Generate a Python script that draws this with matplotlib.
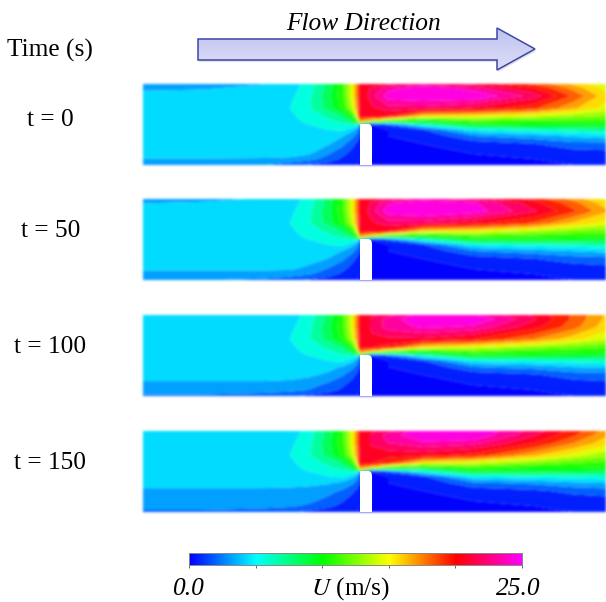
import matplotlib
matplotlib.use("Agg")
import matplotlib.pyplot as plt
import numpy as np
from matplotlib.colors import LinearSegmentedColormap
from matplotlib.patches import PathPatch, Polygon
from matplotlib.path import Path

plt.rcParams['font.family'] = ['Liberation Serif', 'DejaVu Serif']

W, H = 606, 602

# stations of the velocity tables, pixels from the panel's top left corner
x_st = [0, 60, 120, 147, 165, 185, 200, 210, 214, 217, 229, 245, 280, 330, 390, 430, 463]
y_st = [0, 4, 12, 24, 32, 37, 39, 41, 46, 52, 60, 70, 75, 81]

# velocity (m/s), one row per y station
u_t0 = [
    [3.0, 3.0, 3.7, 4.4, 5.4, 8.0, 11.0, 15.0, 17.5, 20.0, 20.5, 21.0, 22.0, 21.0, 18.5, 16.0, 13.5],
    [3.4, 3.6, 4.1, 4.5, 5.5, 8.0, 11.0, 15.0, 17.5, 20.0, 21.5, 23.0, 25.0, 23.0, 20.0, 17.0, 14.5],
    [4.4, 4.4, 4.4, 4.7, 5.8, 8.3, 11.0, 15.0, 17.5, 20.0, 22.0, 24.5, 25.0, 25.0, 22.0, 18.5, 15.5],
    [4.4, 4.4, 4.4, 5.0, 6.0, 8.0, 10.5, 14.0, 17.0, 20.5, 21.0, 22.0, 22.0, 21.0, 19.0, 16.5, 14.5],
    [4.4, 4.4, 4.4, 4.7, 5.6, 6.5, 7.8, 11.0, 15.0, 20.0, 20.0, 20.0, 15.5, 15.0, 14.0, 13.0, 12.5],
    [4.4, 4.4, 4.4, 4.5, 5.3, 6.0, 6.8, 8.5, 11.0, 17.0, 15.0, 11.0, 9.5, 11.5, 11.0, 11.0, 11.0],
    [4.4, 4.4, 4.4, 4.5, 5.1, 5.8, 6.3, 7.0, 9.0, 13.0, 5.0, 5.5, 7.5, 10.5, 10.5, 10.3, 10.3],
    [4.4, 4.4, 4.4, 4.4, 4.9, 5.5, 5.8, 5.8, 5.5, 3.0, 0.0, 1.5, 5.5, 9.0, 9.5, 9.5, 9.5],
    [4.4, 4.4, 4.4, 4.4, 4.5, 5.0, 5.2, 4.0, 3.0, 1.5, 0.0, 0.0, 1.2, 5.0, 6.0, 6.5, 7.0],
    [4.4, 4.4, 4.4, 4.4, 4.4, 4.4, 3.8, 2.8, 2.0, 1.2, 0.0, 0.0, 0.2, 2.5, 3.3, 4.0, 4.5],
    [4.4, 4.4, 4.4, 4.4, 4.4, 3.9, 2.8, 1.5, 1.0, 0.5, 0.0, 0.0, 0.0, 0.5, 1.2, 2.0, 2.0],
    [4.4, 4.4, 4.4, 4.4, 3.9, 2.6, 1.5, 0.8, 0.5, 0.2, 0.0, 0.0, 0.0, 0.0, 0.2, 0.6, 0.8],
    [3.7, 3.7, 3.6, 3.4, 3.0, 2.0, 1.0, 0.4, 0.2, 0.0, 0.0, 0.0, 0.0, 0.0, 0.0, 0.2, 0.3],
    [3.0, 3.0, 2.6, 1.8, 1.2, 0.6, 0.0, 0.0, 0.0, 0.0, 0.0, 0.0, 0.0, 0.0, 0.0, 0.0, 0.0],
]
u_t50 = [
    [3.2, 3.4, 3.9, 4.4, 5.4, 8.0, 11.0, 15.0, 17.5, 20.0, 20.5, 21.5, 23.0, 22.0, 19.5, 17.0, 14.5],
    [3.7, 3.9, 4.3, 4.5, 5.5, 8.0, 11.0, 15.0, 17.5, 20.0, 21.5, 23.5, 25.0, 24.0, 20.5, 18.0, 15.5],
    [4.4, 4.4, 4.4, 4.7, 5.8, 8.3, 11.0, 15.0, 17.5, 20.0, 22.0, 24.5, 25.0, 24.5, 21.5, 19.0, 16.5],
    [4.4, 4.4, 4.4, 5.0, 6.0, 8.0, 10.5, 14.0, 17.0, 20.5, 21.0, 22.0, 22.0, 20.5, 18.5, 16.0, 14.5],
    [4.4, 4.4, 4.4, 4.7, 5.6, 6.5, 7.8, 11.0, 15.0, 20.0, 20.0, 20.0, 15.5, 15.0, 13.5, 12.5, 12.0],
    [4.4, 4.4, 4.4, 4.5, 5.3, 6.0, 6.8, 8.5, 11.0, 17.0, 15.0, 11.0, 9.5, 11.5, 11.0, 10.5, 10.5],
    [4.4, 4.4, 4.4, 4.5, 5.1, 5.8, 6.3, 7.0, 9.0, 13.0, 5.0, 5.5, 7.5, 10.5, 10.2, 10.0, 9.8],
    [4.4, 4.4, 4.4, 4.4, 4.9, 5.5, 5.8, 5.8, 5.5, 3.0, 0.0, 1.5, 5.5, 9.0, 9.3, 9.0, 9.0],
    [4.4, 4.4, 4.4, 4.4, 4.5, 5.0, 5.2, 4.0, 3.0, 1.5, 0.0, 0.0, 1.2, 5.0, 5.8, 6.0, 6.5],
    [4.4, 4.4, 4.4, 4.4, 4.4, 4.3, 3.7, 2.8, 2.0, 1.2, 0.0, 0.0, 0.2, 2.5, 3.2, 3.8, 4.2],
    [4.4, 4.4, 4.4, 4.4, 4.3, 3.7, 2.7, 1.5, 1.0, 0.5, 0.0, 0.0, 0.0, 0.5, 1.2, 1.8, 2.0],
    [4.0, 4.0, 4.0, 3.9, 3.4, 2.4, 1.5, 0.8, 0.5, 0.2, 0.0, 0.0, 0.0, 0.0, 0.2, 0.6, 0.8],
    [3.2, 3.2, 3.2, 3.1, 2.7, 1.9, 1.0, 0.4, 0.2, 0.0, 0.0, 0.0, 0.0, 0.0, 0.0, 0.2, 0.3],
    [2.6, 2.6, 2.3, 1.7, 1.1, 0.6, 0.0, 0.0, 0.0, 0.0, 0.0, 0.0, 0.0, 0.0, 0.0, 0.0, 0.0],
]
u_t100 = [
    [4.4, 4.4, 4.4, 4.4, 5.4, 8.0, 11.0, 15.0, 17.5, 20.0, 21.0, 22.0, 24.5, 24.0, 21.0, 18.5, 16.0],
    [4.4, 4.4, 4.4, 4.5, 5.5, 8.0, 11.0, 15.0, 17.5, 20.0, 21.5, 23.0, 25.0, 25.0, 21.5, 18.5, 16.0],
    [4.4, 4.4, 4.4, 4.7, 5.8, 8.3, 11.0, 15.0, 17.5, 20.0, 21.5, 23.0, 24.0, 23.5, 20.5, 18.0, 15.5],
    [4.4, 4.4, 4.4, 5.0, 6.0, 8.0, 10.5, 14.0, 17.0, 20.5, 21.0, 21.0, 21.0, 20.0, 17.5, 15.5, 14.0],
    [4.4, 4.4, 4.4, 4.7, 5.6, 6.5, 7.8, 11.0, 15.0, 20.0, 20.0, 19.5, 15.5, 14.5, 13.0, 12.0, 11.5],
    [4.4, 4.4, 4.4, 4.5, 5.3, 6.0, 6.8, 8.5, 11.0, 17.0, 15.0, 11.0, 9.5, 11.5, 10.5, 10.5, 10.2],
    [4.4, 4.4, 4.4, 4.5, 5.1, 5.8, 6.3, 7.0, 9.0, 13.0, 5.0, 5.5, 7.5, 10.5, 10.0, 9.8, 9.5],
    [4.4, 4.4, 4.4, 4.4, 4.9, 5.5, 5.8, 5.8, 5.5, 3.0, 0.0, 1.5, 5.5, 9.0, 9.0, 8.8, 8.5],
    [4.4, 4.4, 4.4, 4.4, 4.5, 5.0, 5.2, 4.0, 3.0, 1.5, 0.0, 0.0, 1.2, 5.0, 5.5, 5.8, 6.2],
    [4.4, 4.4, 4.4, 4.4, 4.4, 4.2, 3.6, 2.8, 2.0, 1.2, 0.0, 0.0, 0.2, 2.5, 3.0, 3.8, 4.0],
    [4.3, 4.3, 4.3, 4.2, 4.0, 3.5, 2.6, 1.5, 1.0, 0.5, 0.0, 0.0, 0.0, 0.5, 1.1, 1.8, 2.0],
    [3.4, 3.4, 3.4, 3.3, 3.0, 2.2, 1.4, 0.8, 0.5, 0.2, 0.0, 0.0, 0.0, 0.0, 0.2, 0.6, 0.8],
    [3.1, 3.1, 3.0, 2.9, 2.5, 1.8, 1.0, 0.4, 0.2, 0.0, 0.0, 0.0, 0.0, 0.0, 0.0, 0.2, 0.3],
    [2.3, 2.3, 2.0, 1.5, 1.0, 0.5, 0.0, 0.0, 0.0, 0.0, 0.0, 0.0, 0.0, 0.0, 0.0, 0.0, 0.0],
]
u_t150 = [
    [4.4, 4.4, 4.4, 4.4, 5.4, 8.0, 11.0, 15.0, 17.5, 20.0, 21.0, 22.0, 25.0, 25.0, 22.0, 19.5, 17.0],
    [4.4, 4.4, 4.4, 4.5, 5.5, 8.0, 11.0, 15.0, 17.5, 20.0, 21.5, 23.0, 25.0, 25.0, 21.5, 19.0, 16.5],
    [4.4, 4.4, 4.4, 4.7, 5.8, 8.3, 11.0, 15.0, 17.5, 20.0, 21.5, 22.5, 23.5, 23.0, 20.0, 17.5, 15.5],
    [4.4, 4.4, 4.4, 5.0, 6.0, 8.0, 10.5, 14.0, 17.0, 20.5, 20.5, 20.5, 20.5, 19.5, 16.5, 14.5, 13.0],
    [4.4, 4.4, 4.4, 4.7, 5.6, 6.5, 7.8, 11.0, 15.0, 20.0, 20.0, 19.0, 15.0, 14.0, 12.5, 11.5, 11.0],
    [4.4, 4.4, 4.4, 4.5, 5.3, 6.0, 6.8, 8.5, 11.0, 17.0, 15.0, 10.5, 9.0, 11.0, 10.0, 10.0, 9.8],
    [4.4, 4.4, 4.4, 4.5, 5.1, 5.8, 6.3, 7.0, 9.0, 13.0, 5.0, 5.5, 7.0, 10.0, 9.5, 9.3, 9.0],
    [4.4, 4.4, 4.4, 4.4, 4.9, 5.5, 5.8, 5.8, 5.5, 3.0, 0.0, 1.5, 5.0, 8.5, 8.5, 8.3, 8.0],
    [4.4, 4.4, 4.4, 4.4, 4.5, 4.9, 5.1, 4.0, 3.0, 1.5, 0.0, 0.0, 1.0, 4.8, 5.3, 5.5, 5.8],
    [4.2, 4.2, 4.2, 4.2, 4.1, 3.9, 3.4, 2.7, 2.0, 1.2, 0.0, 0.0, 0.2, 2.3, 2.8, 3.5, 3.8],
    [3.5, 3.5, 3.5, 3.4, 3.3, 2.9, 2.3, 1.4, 1.0, 0.5, 0.0, 0.0, 0.0, 0.5, 1.0, 1.6, 1.9],
    [3.2, 3.2, 3.2, 3.1, 2.8, 2.1, 1.3, 0.8, 0.5, 0.2, 0.0, 0.0, 0.0, 0.0, 0.2, 0.6, 0.7],
    [3.1, 3.1, 2.9, 2.7, 2.3, 1.6, 0.9, 0.4, 0.2, 0.0, 0.0, 0.0, 0.0, 0.0, 0.0, 0.2, 0.3],
    [2.2, 2.2, 1.9, 1.5, 1.0, 0.5, 0.0, 0.0, 0.0, 0.0, 0.0, 0.0, 0.0, 0.0, 0.0, 0.0, 0.0],
]

fields = [u_t0, u_t50, u_t100, u_t150]
time_labels = ["t = 0", "t = 50", "t = 100", "t = 150"]
panel_tops = [84, 199, 315, 431]
label_ys = [120, 231, 347, 463]

cmap = LinearSegmentedColormap.from_list(
    "flow", ["#0000ff", "#00ffff", "#00ff00", "#ffff00", "#ff0000", "#ff00ff"])
levels = np.arange(0, 26.25, 1.25)


def blur_filter(img, dpi):
    # the source is a soft, scaled up raster: soften the drawn picture only
    pad = 6
    kernel = np.exp(-0.5 * (np.arange(-pad, pad + 1) / 1.3) ** 2)
    kernel = kernel / kernel.sum()
    a = np.pad(img, ((pad, pad), (pad, pad), (0, 0)))
    a[..., :3] *= a[..., 3:]
    for axis in (0, 1):
        a = np.apply_along_axis(np.convolve, axis, a, kernel, mode="same")
    a[..., :3] /= np.maximum(a[..., 3:], 1e-4)
    return np.clip(a, 0, 1), -pad, -pad


def px_axes(fig, left, top, width, height):
    return fig.add_axes([left / W, 1 - (top + height) / H, width / W, height / H])


def plot_panel(fig, field, top):
    ax = px_axes(fig, 143, top, 463, 81)
    cs = ax.contourf(x_st, y_st, np.array(field), levels=levels, cmap=cmap, vmin=0, vmax=25,
                     extend="both", antialiased=True)
    cs.set_agg_filter(blur_filter)
    # the barrier, right corner rounded
    verts = [(217, 90), (217, 40), (225, 40), (229, 40), (229, 45), (229, 90), (217, 90)]
    codes = [Path.MOVETO, Path.LINETO, Path.LINETO, Path.CURVE3, Path.CURVE3, Path.LINETO, Path.CLOSEPOLY]
    ax.add_patch(PathPatch(Path(verts, codes), fc="white", ec="none", zorder=5))
    ax.set_xlim(0, 463)
    ax.set_ylim(81, 0)
    ax.axis("off")


fig = plt.figure(figsize=(W / 100, H / 100), dpi=100, facecolor="white")

for field, top in zip(fields, panel_tops):
    plot_panel(fig, field, top)

# colorbar
cax = px_axes(fig, 189, 553, 333, 12)
cax.imshow(np.linspace(0, 1, 256)[None, :], cmap=cmap, aspect="auto", extent=[0, 25, 0, 1])
cax.set_yticks([])
cax.set_xticks([0, 5, 10, 15, 20, 25])
cax.set_xticklabels([])
cax.tick_params(axis="x", length=2, width=0.7, color="#666666")
for s in cax.spines.values():
    s.set_color("#888888")
    s.set_linewidth(0.7)

# overlay in pixel coordinates for the arrow and the texts
ov = fig.add_axes([0, 0, 1, 1], facecolor="none")
ov.set_xlim(0, W)
ov.set_ylim(H, 0)
ov.axis("off")

arrow = [(198, 39), (497, 39), (497, 28), (535, 49), (497, 70), (497, 60), (198, 60)]
shadow = Polygon([(x + 1, y + 2) for x, y in arrow], fc="#cccccc", ec="none", alpha=0.6)
ov.add_patch(shadow)
body = Polygon(arrow, fc="none", ec="#3d46a8", lw=1.1, zorder=4)
ov.add_patch(body)
grad = ov.imshow(np.linspace(0, 1, 64)[:, None], cmap=LinearSegmentedColormap.from_list("a", ["#bfc3ef", "#dcdef7"]),
                 extent=[198, 535, 70, 28], aspect="auto", zorder=3)
grad.set_clip_path(Polygon(arrow, transform=ov.transData))
ov.set_xlim(0, W)
ov.set_ylim(H, 0)

fs = 18.3
ov.text(7, 50, "Time (s)", fontsize=fs, ha="left", va="center")
for lab, y in zip(time_labels, label_ys):
    ov.text(50.5, y, lab, fontsize=fs, ha="center", va="center")
ov.text(364, 24, "Flow Direction", fontsize=fs, style="italic", ha="center", va="center")
ov.text(188, 589, "0.0", fontsize=fs, style="italic", ha="center", va="center")
ov.text(351, 589, "$\\mathit{U}$ (m/s)", fontsize=fs, ha="center", va="center", math_fontfamily="stix")
ov.text(518, 589, "25.0", fontsize=fs, style="italic", ha="center", va="center")

fig.savefig("out.png", dpi=100)
